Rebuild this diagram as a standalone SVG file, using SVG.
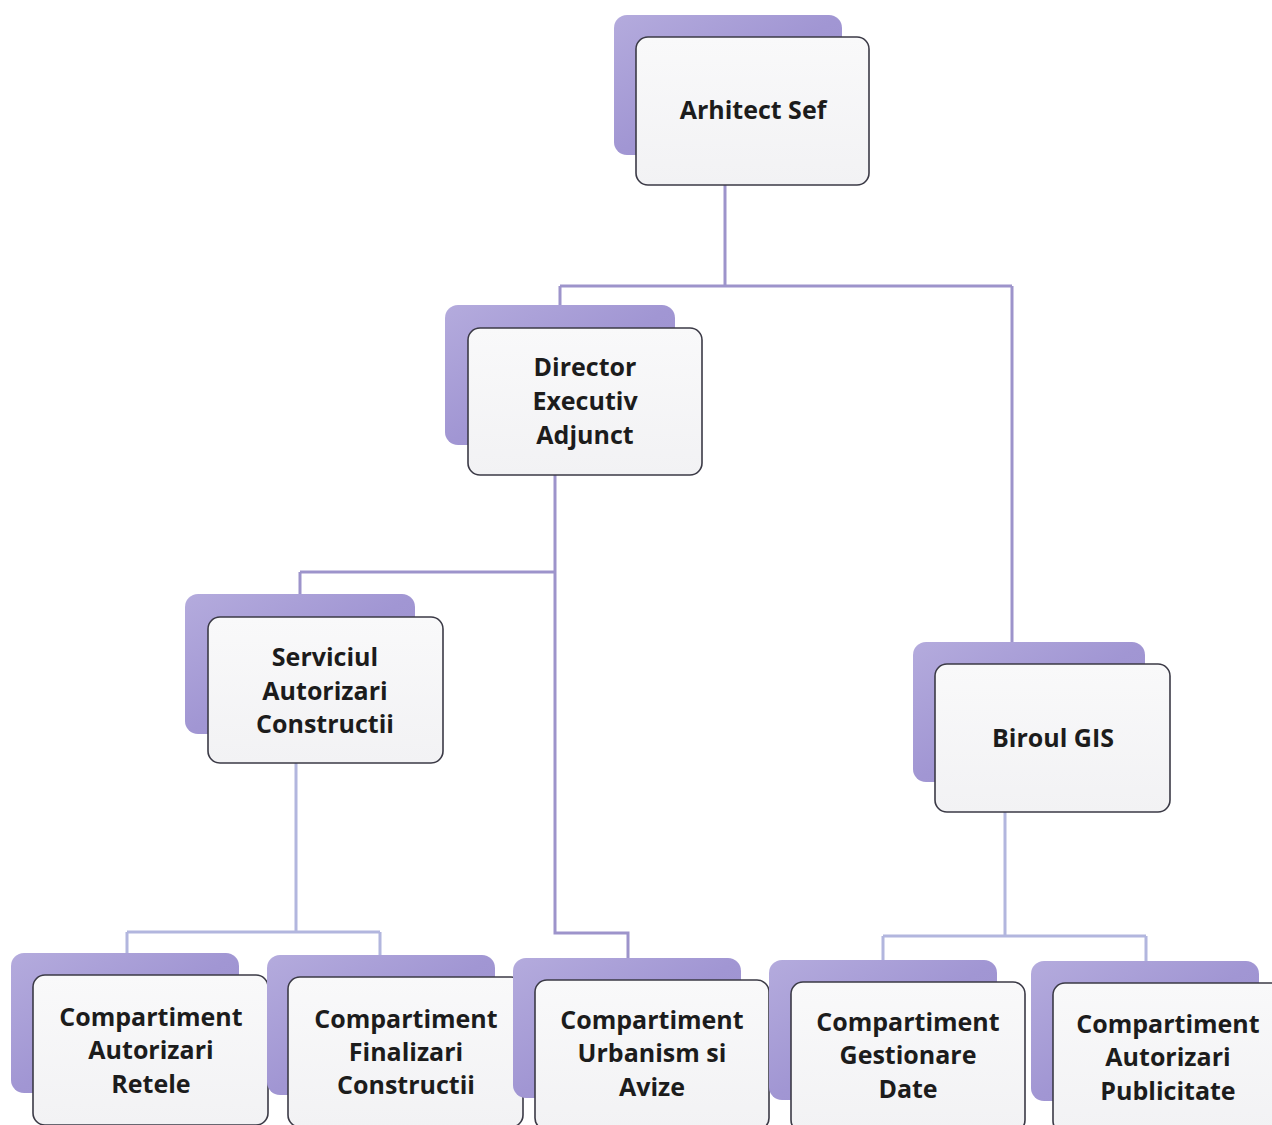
<svg xmlns="http://www.w3.org/2000/svg" width="1272" height="1125" viewBox="0 0 1272 1125">
<defs>
<linearGradient id="sh" x1="0" y1="0" x2="1" y2="1">
<stop offset="0" stop-color="#b4abdd"/>
<stop offset="0.5" stop-color="#a196d3"/>
<stop offset="1" stop-color="#9b90cc"/>
</linearGradient>
<linearGradient id="fr" x1="0" y1="0" x2="0" y2="1">
<stop offset="0" stop-color="#f9f9fa"/>
<stop offset="1" stop-color="#f2f2f4"/>
</linearGradient>
</defs>
<style>
.bg{fill:#ffffff}
.shadow{fill:url(#sh)}
.box{fill:url(#fr);stroke:#3b3a46;stroke-width:1.6}
.c1{fill:none;stroke:#9d94cb;stroke-width:3}
.c2{fill:none;stroke:#b2b6de;stroke-width:3}
text{font-family:"Open Sans","Noto Sans","Liberation Sans",sans-serif;font-weight:700;font-size:25px;fill:#1c1c1c;text-anchor:middle}
</style>
<rect class="bg" x="0" y="0" width="1272" height="1125"/>
<g id="connectors">
<path class="c1" d="M725 185 V286 M560 286 H1012 M560 286 V320 M1012 286 V670"/>
<path class="c1" d="M300 572 H555 M300 572 V600 M555 475 V933 H628 V962"/>
<path class="c2" d="M296 763 V932 M127 932 H380 M127 932 V960 M380 932 V962"/>
<path class="c2" d="M1005 812 V936 M883 936 H1146 M883 936 V965 M1146 936 V965"/>
</g>
<g id="n-arhitect">
<rect class="shadow" x="614" y="15" width="228" height="140" rx="13"/>
<rect class="box" x="636" y="37" width="233" height="148" rx="12"/>
<text x="753" y="119">Arhitect Sef</text>
</g>
<g id="n-director">
<rect class="shadow" x="445" y="305" width="230" height="140" rx="13"/>
<rect class="box" x="468" y="328" width="234" height="147" rx="12"/>
<text x="585" y="376">Director</text>
<text x="585" y="410">Executiv</text>
<text x="585" y="444">Adjunct</text>
</g>
<g id="n-serviciul">
<rect class="shadow" x="185" y="594" width="230" height="140" rx="13"/>
<rect class="box" x="208" y="617" width="235" height="146" rx="12"/>
<text x="325" y="666">Serviciul</text>
<text x="325" y="700">Autorizari</text>
<text x="325" y="733">Constructii</text>
</g>
<g id="n-biroul">
<rect class="shadow" x="913" y="642" width="232" height="140" rx="13"/>
<rect class="box" x="935" y="664" width="235" height="148" rx="12"/>
<text x="1053" y="747">Biroul GIS</text>
</g>
<g id="n-retele">
<rect class="shadow" x="11" y="953" width="228" height="140" rx="13"/>
<rect class="box" x="33" y="975" width="235" height="150" rx="12"/>
<text x="151" y="1026">Compartiment</text>
<text x="151" y="1059">Autorizari</text>
<text x="151" y="1093">Retele</text>
</g>
<g id="n-finalizari">
<rect class="shadow" x="267" y="955" width="228" height="140" rx="13"/>
<rect class="box" x="288" y="977" width="235" height="150" rx="12"/>
<text x="406" y="1028">Compartiment</text>
<text x="406" y="1061">Finalizari</text>
<text x="406" y="1094">Constructii</text>
</g>
<g id="n-urbanism">
<rect class="shadow" x="513" y="958" width="228" height="140" rx="13"/>
<rect class="box" x="535" y="980" width="234" height="150" rx="12"/>
<text x="652" y="1029">Compartiment</text>
<text x="652" y="1062">Urbanism si</text>
<text x="652" y="1096">Avize</text>
</g>
<g id="n-gestionare">
<rect class="shadow" x="769" y="960" width="228" height="140" rx="13"/>
<rect class="box" x="791" y="982" width="234" height="150" rx="12"/>
<text x="908" y="1031">Compartiment</text>
<text x="908" y="1064">Gestionare</text>
<text x="908" y="1098">Date</text>
</g>
<g id="n-publicitate">
<rect class="shadow" x="1031" y="961" width="228" height="140" rx="13"/>
<rect class="box" x="1053" y="983" width="234" height="150" rx="12"/>
<text x="1168" y="1033">Compartiment</text>
<text x="1168" y="1066">Autorizari</text>
<text x="1168" y="1100">Publicitate</text>
</g>
</svg>
